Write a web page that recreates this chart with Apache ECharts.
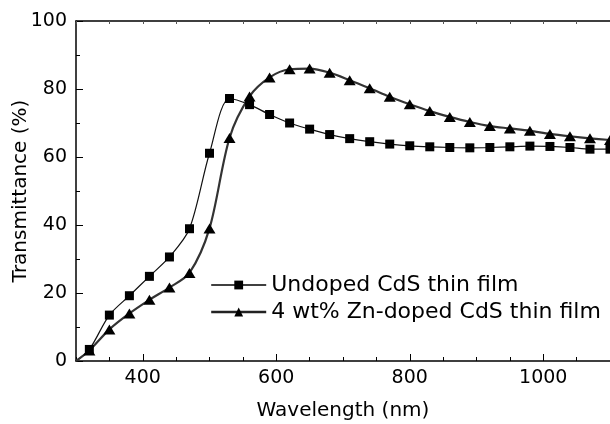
<!DOCTYPE html>
<html>
<head>
<meta charset="utf-8">
<script src="https://cdn.jsdelivr.net/npm/echarts@6/dist/echarts.min.js"></script>
<style>
  html, body { margin: 0; padding: 0; background: #fff; }
  #chart { width: 610px; height: 424px; }
</style>
</head>
<body>
<div id="chart"></div>
<script>
// wavelength (nm), first point is the unmarked start of the curves
var wavelength = [300, 320, 350, 380, 410, 440, 470, 500, 530, 560, 590, 620, 650, 680,
  710, 740, 770, 800, 830, 860, 890, 920, 950, 980, 1010, 1040, 1070, 1100];
// transmittance (%)
var undoped = [0, 3.4, 13.5, 19.2, 24.9, 30.6, 38.9, 61.1, 77.2, 75.4, 72.5, 70.0, 68.2, 66.6,
  65.4, 64.5, 63.8, 63.3, 63.0, 62.8, 62.7, 62.8, 63.0, 63.2, 63.1, 62.8, 62.3, 62.3];
var znDoped = [0, 3.1, 9.3, 14.0, 18.0, 21.6, 25.9, 39.0, 65.6, 77.8, 83.4, 85.8, 86.0, 84.8,
  82.6, 80.2, 77.7, 75.5, 73.5, 71.8, 70.3, 69.1, 68.4, 67.7, 66.8, 66.1, 65.5, 65.0];
var xLabels = [400, 600, 800, 1000];
var seriesNames = ['Undoped CdS thin film', '4 wt% Zn-doped CdS thin film'];

var FONT = 'DejaVu Sans';

function toData(ys) {
  return wavelength.map(function (x, i) {
    if (i === 0) return { value: [x, ys[i]], symbol: 'none' };
    return [x, ys[i]];
  });
}

var chart = echarts.init(document.getElementById('chart'));
chart.setOption({
  animation: false,
  backgroundColor: '#fff',
  grid: { left: 76, right: 0, top: 21, bottom: 63, outerBoundsMode: 'none', containLabel: false },
  legend: {
    orient: 'vertical',
    left: 210,
    top: 274,
    padding: 0,
    itemGap: 5,
    itemWidth: 55,
    itemHeight: 11,
    textStyle: { fontFamily: FONT, fontSize: 22, color: '#000' },
    data: [
      { name: seriesNames[0], lineStyle: { width: 1.5, color: '#000' } },
      { name: seriesNames[1], lineStyle: { width: 2.4, color: '#222' } }
    ]
  },
  xAxis: [
    {
      type: 'value', min: 300, max: 1100, interval: 50, position: 'bottom',
      name: 'Wavelength (nm)', nameLocation: 'middle', nameGap: 40,
      nameTextStyle: { fontFamily: FONT, fontSize: 20, color: '#000' },
      axisLine: { show: true, lineStyle: { color: '#000', width: 1.5 } },
      axisTick: { inside: true, length: 4, lineStyle: { color: '#000', width: 1 } },
      axisLabel: {
        customValues: xLabels, margin: 8,
        fontFamily: FONT, fontSize: 19, color: '#000',
        formatter: function (v) { return String(v); }
      },
      splitLine: { show: false }
    },
    {
      type: 'value', min: 300, max: 1100, interval: 50, position: 'bottom',
      axisLine: { show: false },
      axisTick: { inside: true, length: 7, customValues: xLabels, lineStyle: { color: '#000', width: 1 } },
      axisLabel: { show: false },
      splitLine: { show: false }
    },
    {
      type: 'value', min: 300, max: 1100, interval: 50, position: 'top',
      axisLine: { show: true, lineStyle: { color: '#000', width: 1.5 } },
      axisTick: { inside: true, length: 3, lineStyle: { color: '#555', width: 1 } },
      axisLabel: { show: false },
      splitLine: { show: false }
    }
  ],
  yAxis: {
    type: 'value', min: 0, max: 100, interval: 20,
    name: 'Transmittance (%)', nameLocation: 'middle', nameGap: 45, nameMoveOverlap: false,
    nameTextStyle: { fontFamily: FONT, fontSize: 20, color: '#000' },
    axisLine: { show: true, lineStyle: { color: '#000', width: 1.5 } },
    axisTick: { inside: true, length: 7, lineStyle: { color: '#000', width: 1 } },
    minorTick: { show: true, splitNumber: 2, length: 4, lineStyle: { color: '#000', width: 1 } },
    axisLabel: { margin: 9, fontFamily: FONT, fontSize: 19, color: '#000' },
    splitLine: { show: false }
  },
  series: [
    {
      name: seriesNames[0], type: 'line', xAxisIndex: 0,
      smooth: 0.3, symbol: 'rect', symbolSize: 9,
      itemStyle: { color: '#000' },
      lineStyle: { color: '#111', width: 1.2 },
      data: toData(undoped)
    },
    {
      name: seriesNames[1], type: 'line', xAxisIndex: 0,
      smooth: 0.3, symbol: 'triangle', symbolSize: [12, 10],
      itemStyle: { color: '#000' },
      lineStyle: { color: '#333', width: 2.2 },
      data: toData(znDoped)
    }
  ]
});
</script>
</body>
</html>
